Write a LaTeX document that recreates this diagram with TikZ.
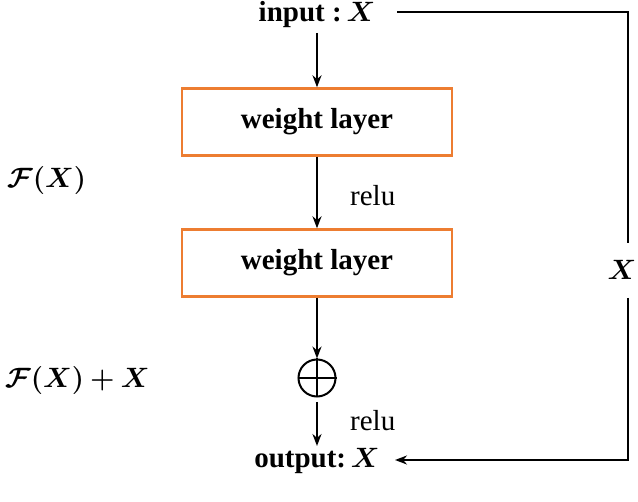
\RequirePackage{fix-cm}
\documentclass[tikz,border=0pt]{standalone}
\usepackage{fontspec}
\usepackage{amsmath,bm}
\setmainfont{Liberation Serif}
\usetikzlibrary{positioning,arrows.meta}
\definecolor{layerorange}{HTML}{ED7D31}
\newcommand{\bigmath}[1]{{\fontsize{28}{34}\selectfont$\bm{#1}$}}
\begin{document}
\begin{tikzpicture}[
		x=1pt, y=-1pt,
		layer/.style = {draw=layerorange, line width=2.4pt, minimum width=270pt, minimum height=67pt, font=\bfseries\fontsize{29}{34}\selectfont},
		lbl/.style   = {font=\fontsize{29}{34}\selectfont, inner sep=0pt},
		edge/.style  = {-{Stealth[length=12pt,width=9pt]}, line width=2pt},
		>=Stealth]
		\useasboundingbox (0,0) rectangle (638,502);
		
		% main column
		\node[lbl, anchor=base] (in) at (317,22) {\textbf{input :}\,\bigmath{X}};
		\node[layer] (w1) at (317,122) {weight layer};
		\node[layer] (w2) at (317,263) {weight layer};
		\node[circle, draw, line width=2pt, minimum size=37pt, inner sep=0pt] (add) at (317,378) {};
		\draw[line width=2pt] (add.north) -- (add.south) (add.west) -- (add.east);
		\node[lbl, anchor=base] (out) at (317,468) {\textbf{output:}\,\bigmath{X}};
		
		% side labels
		\node[lbl, anchor=west] (fx) at (7,181) {\bigmath{\mathcal{F}(X)}};
		\node[lbl, anchor=west] (fxx) at (5,381) {\bigmath{\mathcal{F}(X)+X}};
		\node[lbl, anchor=west] (r1) at (350,196) {relu};
		\node[lbl, anchor=west] (r2) at (350,421) {relu};
		\node[lbl] (xs) at (622,270) {\bigmath{X}};
		
		% arrows down the column
		\draw[edge] (317,33) -- (w1.north);
		\draw[edge] (w1.south) -- (w2.north);
		\draw[edge] (w2.south) -- (add.north);
		\draw[edge] (317,402) -- (317,446);
		
		% identity shortcut
		\coordinate (c1) at (628,12);
		\coordinate (c2) at (628,460);
		\draw[line width=2pt] (397,12) -- (c1) -- (628,243);
		\draw[edge] (628,298) -- (c2) -- (395,460);
\end{tikzpicture}
\end{document}
